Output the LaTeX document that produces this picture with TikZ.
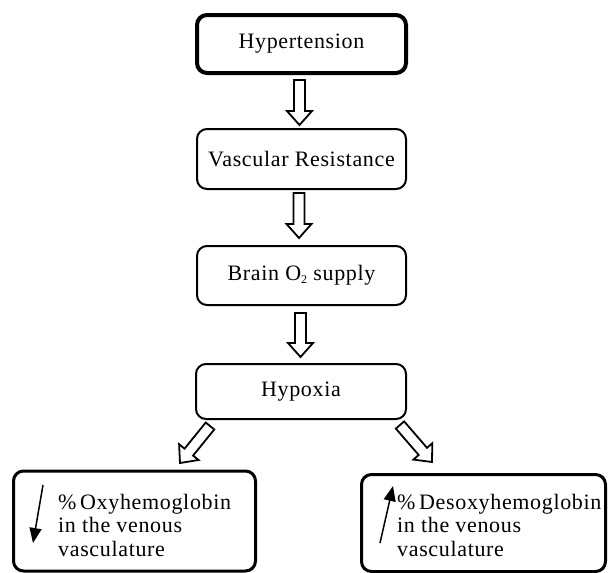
\documentclass[tikz,border=0pt]{standalone}
\usepackage{fontspec}
\setmainfont{Liberation Serif}[LetterSpace=3]
\usetikzlibrary{calc,arrows.meta}
\tikzset{
  box/.style={draw, rounded corners=10pt, line width=2pt, inner sep=0pt,
    font=\fontsize{22}{23.5}\selectfont},
  lbl/.style={font=\fontsize{22}{23.5}\selectfont, inner sep=0pt, align=left},
  fatarrowstyle/.style={draw, line width=1.8pt, fill=white, line join=miter},
  smallarrow/.style={line width=1.5pt, -{Triangle[length=15pt,width=12pt]}},
}
\newcommand\fatarrow[2]{%
  \coordinate (fa-h) at ($(#2)!14pt!(#1)$);
  \draw[fatarrowstyle] ($(#1)!5.5pt!90:(#2)$) -- ($(fa-h)!5.5pt!90:(#2)$)
    -- ($(fa-h)!12.5pt!90:(#2)$) -- (#2) -- ($(fa-h)!12.5pt!-90:(#2)$)
    -- ($(fa-h)!5.5pt!-90:(#2)$) -- ($(#1)!5.5pt!-90:(#2)$) -- cycle;}
\begin{document}
\begin{tikzpicture}[x=1pt,y=-1pt]
\path[use as bounding box] (0,0) rectangle (608,573);
\node[box, line width=4pt, minimum width=209pt, minimum height=58pt] (h) at (301.5,44) {Hypertension};
\node[box, minimum width=209pt, minimum height=60pt] (v) at (301.5,159) {Vascular Resistance};
\node[box, minimum width=209pt, minimum height=59pt] (b) at (301.5,275.5) {Brain O\raisebox{-3pt}{\fontsize{12}{12}\selectfont 2} supply};
\node[box, minimum width=210pt, minimum height=55pt] (x) at (301,391.5) {Hypoxia};
\node[box, line width=3pt, minimum width=242pt, minimum height=100pt] (l) at (134.5,521) {};
\node[box, line width=3pt, minimum width=244pt, minimum height=97pt] (r) at (483.5,523) {};
\node[lbl, anchor=west] (lt) at (58,525) {\%\,Oxyhemoglobin\\in the venous\\vasculature};
\node[lbl, anchor=west] (rt) at (397,525) {\%\,Desoxyhemoglobin\\in the venous\\vasculature};
% block arrows
\coordinate (a1s) at (299.5,80);  \coordinate (a1t) at (299.5,125);
\coordinate (a2s) at (299,193);   \coordinate (a2t) at (299,238);
\coordinate (a3s) at (300.5,313); \coordinate (a3t) at (300.5,357);
\coordinate (a4s) at (210,426);   \coordinate (a4t) at (180,463);
\coordinate (a5s) at (400,425);   \coordinate (a5t) at (432,462);
\fatarrow{a1s}{a1t}
\fatarrow{a2s}{a2t}
\fatarrow{a3s}{a3t}
\fatarrow{a4s}{a4t}
\fatarrow{a5s}{a5t}
% small arrows
\coordinate (d1s) at (43,485); \coordinate (d1t) at (33,543);
\coordinate (u1s) at (380,543); \coordinate (u1t) at (393,486);
\draw[smallarrow] (d1s) -- (d1t);
\draw[smallarrow] (u1s) -- (u1t);
\end{tikzpicture}
\end{document}
